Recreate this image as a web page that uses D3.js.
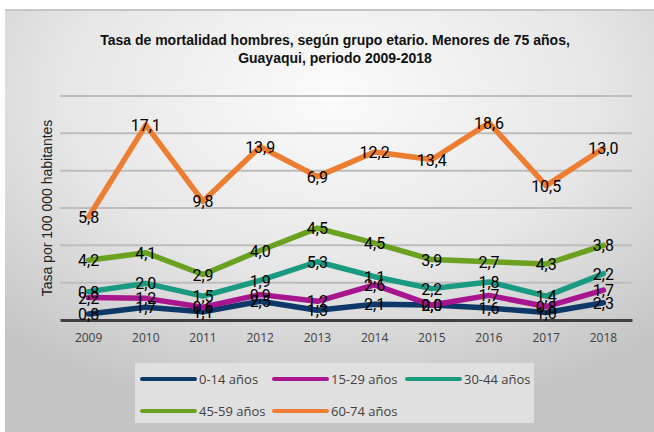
<!DOCTYPE html>
<html>
<head>
<meta charset="utf-8">
<script src="https://cdn.jsdelivr.net/npm/d3@7"></script>
<style>
  body { margin: 0; background: #fff; }
  svg { display: block; }
</style>
</head>
<body>
<svg id="chart" width="654" height="432"></svg>
<script>
var years = ["2009", "2010", "2011", "2012", "2013", "2014", "2015", "2016", "2017", "2018"];
var groups = ["0-14 años", "15-29 años", "30-44 años", "45-59 años", "60-74 años"];
var colors = ["#0d3868", "#a8168f", "#1a9a80", "#6aa121", "#ed7d31"];

var v0_14  = [0.8, 1.7, 1.1, 2.5, 1.3, 2.1, 2.0, 1.6, 1.0, 2.3];
var v15_29 = [2.2, 1.2, 0.6, 0.9, 1.2, 2.6, 0.0, 1.7, 0.8, 1.7];
var v30_44 = [0.8, 2.0, 1.5, 1.9, 5.3, 1.1, 2.2, 1.8, 1.4, 2.2];
var v45_59 = [4.2, 4.1, 2.9, 4.0, 4.5, 4.5, 3.9, 2.7, 4.3, 3.8];
var v60_74 = [5.8, 17.1, 9.8, 13.9, 6.9, 12.2, 13.4, 18.6, 10.5, 13.0];

var yTicks = [0, 5, 10, 15, 20, 25, 30];

var series = [v0_14, v15_29, v30_44, v45_59, v60_74];

// stacked line: each line sits on the cumulative total
var rows = years.map(function(y, i){
  var r = {year: y};
  groups.forEach(function(g, k){ r[g] = series[k][i]; });
  return r;
});
var stacked = d3.stack().keys(groups)(rows);

var svg = d3.select("#chart");
var margin = {top: 96, right: 22, bottom: 112, left: 60};
var width = 654 - margin.left - margin.right,
    height = 432 - margin.top - margin.bottom;

// background card
var defs = svg.append("defs");
var grad = defs.append("radialGradient").attr("id", "bg")
  .attr("cx", "50%").attr("cy", "20%").attr("r", "75%");
grad.append("stop").attr("offset", "0%").attr("stop-color", "#fbfbfb");
grad.append("stop").attr("offset", "55%").attr("stop-color", "#e6e6e6");
grad.append("stop").attr("offset", "100%").attr("stop-color", "#c4c4c4");

svg.append("rect")
  .attr("x", 5).attr("y", 9).attr("width", 654).attr("height", 432)
  .attr("fill", "url(#bg)");
svg.append("line")
  .attr("x1", 5).attr("x2", 654).attr("y1", 10).attr("y2", 10)
  .style("stroke", "#c6c6c6").style("stroke-width", 2);

// title
var title = svg.append("text")
  .attr("text-anchor", "middle")
  .style("font-family", "'Liberation Sans Narrow', 'Liberation Sans', Arial, sans-serif")
  .style("font-size", "14px")
  .style("font-weight", "bold")
  .style("fill", "#111");
title.append("tspan").attr("x", 335).attr("y", 45)
  .text("Tasa de mortalidad hombres, según grupo etario. Menores de 75 años,");
title.append("tspan").attr("x", 335).attr("y", 63)
  .text("Guayaqui, periodo 2009-2018");

var g = svg.append("g")
  .attr("transform", "translate(" + margin.left + "," + margin.top + ")");

var x = d3.scaleBand().domain(years).range([0, width]);
var y = d3.scaleLinear().domain([0, 30]).range([height, 0]);

// gridlines
g.selectAll(".grid")
  .data(yTicks.slice(1))
  .enter().append("line")
  .attr("x1", 0).attr("x2", width)
  .attr("y1", function(d){ return y(d); })
  .attr("y2", function(d){ return y(d); })
  .style("stroke", "#bdbdbd")
  .style("stroke-width", 2);

// x axis
var xAxis = g.append("g")
  .attr("transform", "translate(0," + height + ")")
  .call(d3.axisBottom(x).tickSize(0).tickPadding(13));
xAxis.select(".domain").style("stroke", "#404040").style("stroke-width", 3);
xAxis.selectAll("text")
  .style("font-family", "'Open Sans', sans-serif")
  .style("font-size", "12px")
  .style("fill", "#404040");

// y axis label
svg.append("text")
  .attr("transform", "rotate(-90)")
  .attr("x", -208)
  .attr("y", 52)
  .attr("text-anchor", "middle")
  .style("font-family", "'Liberation Sans', Arial, sans-serif")
  .style("font-size", "14px")
  .style("fill", "#222")
  .text("Tasa por 100 000 habitantes");

// lines
var line = d3.line()
  .x(function(d){ return x(d.data.year) + x.bandwidth() / 2; })
  .y(function(d){ return y(d[1]); });

g.selectAll(".line")
  .data(stacked)
  .enter().append("path")
  .attr("d", line)
  .style("fill", "none")
  .style("stroke", function(d, i){ return colors[i]; })
  .style("stroke-width", 5.5)
  .style("stroke-linejoin", "round")
  .style("stroke-linecap", "round");

// labels (centered on the point, showing the group's own value)
stacked.forEach(function(s, k){
  g.selectAll(".lab" + k)
    .data(s)
    .enter().append("text")
    .attr("x", function(d){ return x(d.data.year) + x.bandwidth() / 2; })
    .attr("y", function(d){ return y(d[1]); })
    .attr("dy", "0.38em")
    .attr("text-anchor", "middle")
    .style("font-family", "Roboto, sans-serif")
    .style("font-size", "16px")
    .style("fill", "#000")
    .text(function(d){ return d3.format(".1f")(d[1] - d[0]).replace(".", ","); });
});

// legend
svg.append("rect")
  .attr("x", 135).attr("y", 363).attr("width", 399).attr("height", 60)
  .attr("fill", "#e0e0e0");

var legendPos = [[142, 379], [274, 379], [407, 379], [142, 411], [274, 411]];
var leg = svg.selectAll(".leg")
  .data(groups)
  .enter().append("g")
  .attr("transform", function(d, i){ return "translate(" + legendPos[i][0] + "," + legendPos[i][1] + ")"; });
leg.append("line")
  .attr("x1", 0).attr("x2", 53)
  .style("stroke", function(d, i){ return colors[i]; })
  .style("stroke-width", 4)
  .style("stroke-linecap", "round");
leg.append("text")
  .attr("x", 57).attr("dy", "0.35em")
  .style("font-family", "'Open Sans', sans-serif")
  .style("font-size", "13px")
  .style("fill", "#404040")
  .text(function(d){ return d; });
</script>
</body>
</html>
